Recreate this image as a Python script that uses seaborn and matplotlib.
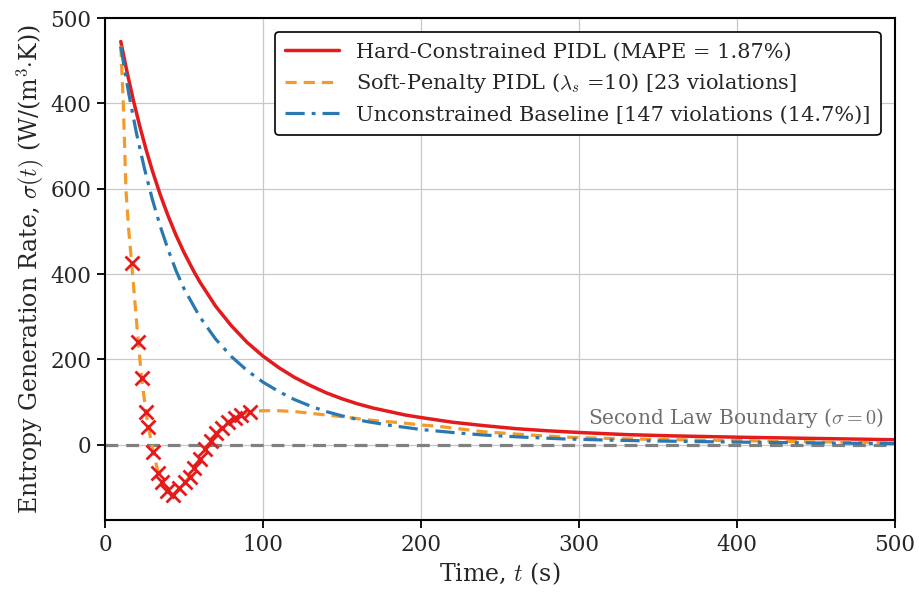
import numpy as np
import pandas as pd
import matplotlib
matplotlib.use("Agg")
import matplotlib.pyplot as plt
import seaborn as sns

# ---------------- data ----------------
t_hard = [10, 14, 18, 22, 26, 30, 35, 40, 45, 50, 56, 60, 70, 80, 90, 100, 110, 120, 130,
          140, 150, 160, 170, 180, 190, 200, 220, 240, 260, 280, 300, 330, 360, 400, 450, 500]
s_hard = [945, 873, 807, 747, 692, 642, 586, 536, 491, 451, 408, 382, 325, 279, 240, 208, 181, 158, 139,
          122, 108, 96, 86, 78, 70, 64, 53, 45, 38, 33, 29, 24, 21, 18, 15, 12]

t_base = [10, 15, 20, 25, 30, 35, 40, 45, 50, 60, 70, 80, 90, 100, 110, 120, 130, 140, 150,
          165, 180, 200, 220, 240, 265, 290, 320, 350, 400, 450, 500]
s_base = [933, 824, 729, 647, 575, 512, 457, 408, 366, 300, 248, 207, 174, 147, 125, 106, 91, 78, 68,
          55, 46, 36, 29, 23, 18, 14, 11, 9, 6.5, 4.5, 3]

t_soft = [10, 11.6, 13.3, 15, 16.9, 21.1, 23.2, 25.9, 27.4, 30.6, 33.7, 35.9, 39, 43, 47, 50.5, 53.5,
          56.5, 60, 63.5, 67, 70.5, 74, 78, 82, 86, 91.8, 100, 110, 120, 130, 140, 150, 170, 187,
          199, 212, 239, 265, 292, 320, 345, 400, 450, 500]
s_soft = [935, 800, 595, 505, 425, 240, 156, 78, 43, -16, -66, -86, -108, -118, -102, -88, -75,
          -55, -32, -10, 10, 27, 40, 53, 64, 71, 78, 80, 80, 78, 74, 70, 66, 57, 52,
          47, 43, 31, 24, 18, 15, 13, 10, 7, 5]

t_viol = [16.9, 21.1, 23.2, 25.9, 27.4, 30.6, 33.7, 35.9, 39, 43, 47, 50.5, 53.5,
          56.5, 60, 63.5, 67, 70.5, 74, 78, 82, 86, 91.8]
s_viol = [425, 240, 156, 78, 43, -16, -66, -86, -108, -118, -102, -88, -75,
          -55, -32, -10, 10, 27, 40, 53, 64, 71, 78]

y_ticks = [0, 200, 400, 600, 800, 1000]
y_tick_labels = ["0", "200", "400", "600", "400", "500"]
x_ticks = [0, 100, 200, 300, 400, 500]

labels = ["Hard-Constrained PIDL (MAPE = 1.87%)",
          r"Soft-Penalty PIDL ($\lambda_s$ =10) [23 violations]",
          "Unconstrained Baseline [147 violations (14.7%)]"]

# ---------------- style ----------------
sns.set_theme(style="whitegrid")
plt.rcParams["font.family"] = ["DejaVu Serif"]
plt.rcParams["mathtext.fontset"] = "cm"
plt.rcParams["axes.unicode_minus"] = False

RED = "#e41a1c"
ORANGE = "#f39a2c"
BLUE = "#2a78b2"

fig = plt.figure(figsize=(9.2, 5.97), dpi=100)
ax = fig.add_axes([0.1141, 0.129, 0.8587, 0.8408])

sns.lineplot(x=t_hard, y=s_hard, ax=ax, color=RED, linewidth=2.5, label=labels[0], sort=False)
sns.lineplot(x=t_soft, y=s_soft, ax=ax, color=ORANGE, linewidth=2.3, linestyle=(0, (3.5, 2.2)),
             label=labels[1], sort=False)
sns.lineplot(x=t_base, y=s_base, ax=ax, color=BLUE, linewidth=2.3, linestyle=(0, (6, 2.2, 1.2, 2.2)),
             label=labels[2], sort=False)
ax.plot(t_viol, s_viol, linestyle="none", marker="x", color=RED, markersize=10, markeredgewidth=2.0,
        zorder=5)

ax.axhline(0, color="#808080", linestyle=(0, (4, 2.5)), linewidth=2.3, zorder=1)
ax.text(493, 62, r"Second Law Boundary ($\sigma = 0$)", color="#6e6e6e", fontsize=14.5,
        ha="right", va="center")

ax.set_xlim(0, 500)
ax.set_ylim(-176, 1000)
ax.set_xticks(x_ticks)
ax.set_yticks(y_ticks)
ax.set_yticklabels(y_tick_labels)
ax.tick_params(axis="both", labelsize=15.5, direction="out", length=6, width=1.3, color="black",
               left=True, bottom=True, pad=4)
for sp in ax.spines.values():
    sp.set_color("black")
    sp.set_linewidth(1.5)
ax.grid(True, color="#c8c8c8", linewidth=0.9)
ax.set_facecolor("white")

ax.set_xlabel(r"Time, $t$ (s)", fontsize=17, labelpad=3)
ax.set_ylabel(r"Entropy Generation Rate, $\sigma(t)$ (W/(m$^3$$\cdot$K))", fontsize=17, labelpad=3)

leg = ax.legend(loc="upper right", fontsize=15, frameon=True, fancybox=True, framealpha=1,
                edgecolor="black", handlelength=2.6, borderpad=0.5, labelspacing=0.48,
                bbox_to_anchor=(0.995, 0.993))
leg.get_frame().set_linewidth(1.2)

fig.savefig("out.png", dpi=100, facecolor="white")
